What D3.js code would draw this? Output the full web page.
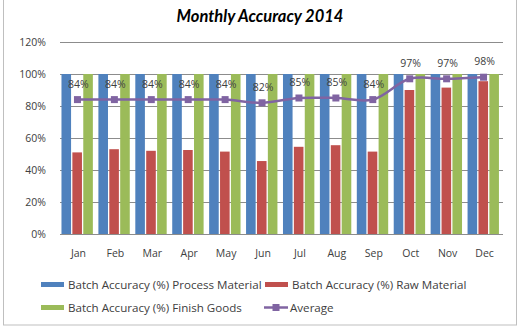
<!DOCTYPE html>
<html><head><meta charset="utf-8">
<script src="https://cdn.jsdelivr.net/npm/d3@7"></script>
<style>body{margin:0;background:#fff}svg{display:block}</style>
</head><body>
<svg id="c" width="522" height="328"></svg>
<script>
const months = ["Jan","Feb","Mar","Apr","May","Jun","Jul","Aug","Sep","Oct","Nov","Dec"];
const processMaterial = [100,100,100,100,100,100,100,100,100,100,100,100];
const rawMaterial = [51,53,52,52.5,51.5,45.6,54.5,55.5,51.5,90,91.5,95.5];
const finishGoods = [100,100,100,100,100,100,100,100,100,100,100,100];
const average = [84,84,84,84,84,82,85,85,84,97,97,98];
const avgLabels = ["84%","84%","84%","84%","84%","82%","85%","85%","84%","97%","97%","98%"];
const yTicks = [0,20,40,60,80,100,120];
const seriesNames = ["Batch Accuracy (%) Process Material","Batch Accuracy (%) Raw Material","Batch Accuracy (%) Finish Goods","Average"];
const colors = ["#4F81BD","#C0504D","#9BBB59","#8064A2"];

(function(){
const svg = d3.select("#c");
const font = "'Open Sans', Lato, sans-serif";
const fs = "10.5px";
const pl = 60, pr = 503, pt = 42, pb = 234;

svg.append("rect").attr("x",3.5).attr("y",-2).attr("width",513).attr("height",327)
  .attr("fill","none").attr("stroke","#bfbfbf").attr("stroke-width",1);

const x = d3.scaleBand().domain(months).range([pl,pr]).paddingInner(0).paddingOuter(0);
const y = d3.scaleLinear().domain([0,120]).range([pb,pt]);
const series = [processMaterial, rawMaterial, finishGoods];
const xs = d3.scaleBand().domain([0,1,2]).range([0, x.bandwidth()*0.85]).paddingInner(0.12);
const groupOffset = x.bandwidth()*0.04;

const yAxis = d3.axisLeft(y).tickValues(yTicks).tickFormat(d=>d+"%").tickSize(-(pr-pl)).tickPadding(14);
const ga = svg.append("g").attr("transform",`translate(${pl},0)`).call(yAxis);
ga.select(".domain").remove();
ga.selectAll(".tick line").attr("stroke","#8c8c8c").attr("stroke-width",1);
ga.selectAll(".tick text").attr("fill","#404040").style("font-family",font).style("font-size",fs);

series.forEach((vals,si)=>{
  svg.append("g").selectAll("rect").data(vals).join("rect")
    .attr("x",(d,i)=>x(months[i])+groupOffset+xs(si))
    .attr("width",xs.bandwidth())
    .attr("y",d=>y(d))
    .attr("height",d=>pb-y(d))
    .attr("fill",colors[si]);
});

const xAxis = d3.axisBottom(x).tickSize(0).tickPadding(16);
const gx = svg.append("g").attr("transform",`translate(0,${pb})`).call(xAxis);
gx.select(".domain").remove();
gx.selectAll(".tick text").attr("fill","#404040").style("font-family",font).style("font-size",fs);

const cx = (d,i)=>x(months[i])+x.bandwidth()/2 - 1;
const line = d3.line().x(cx).y(d=>y(d)).curve(d3.curveCatmullRom.alpha(0.5));
svg.append("path").datum(average).attr("d",line).attr("fill","none")
  .attr("stroke",colors[3]).attr("stroke-width",2.5);
svg.append("g").selectAll("rect").data(average).join("rect")
  .attr("x",(d,i)=>cx(d,i)-3.5).attr("y",d=>y(d)-3.5).attr("width",7).attr("height",7)
  .attr("fill",colors[3]);
svg.append("g").selectAll("text").data(average).join("text")
  .attr("x",(d,i)=>cx(d,i)+1).attr("y",d=>y(d)-12)
  .attr("text-anchor","middle").attr("fill","#404040")
  .style("font-family",font).style("font-size",fs)
  .text((d,i)=>avgLabels[i]);

svg.append("text").attr("x",260).attr("y",22).attr("text-anchor","middle")
  .style("font-family","Lato, sans-serif").style("font-size","16.5px").style("font-weight","bold").style("font-style","italic")
  .attr("fill","#000").text("Monthly Accuracy 2014");

const legend = [
  {i:0,x:41,y:287},{i:1,x:265,y:287},{i:2,x:41,y:310},{i:3,x:264,y:310}
];
legend.forEach(l=>{
  const g = svg.append("g");
  if (l.i<3) {
    g.append("rect").attr("x",l.x).attr("y",l.y-5).attr("width",23).attr("height",5).attr("fill",colors[l.i]);
  } else {
    g.append("line").attr("x1",l.x).attr("x2",l.x+24).attr("y1",l.y-2.5).attr("y2",l.y-2.5)
      .attr("stroke",colors[3]).attr("stroke-width",2.5);
    g.append("rect").attr("x",l.x+8.5).attr("y",l.y-6).attr("width",7).attr("height",7).attr("fill",colors[3]);
  }
  g.append("text").attr("x",l.x+(l.i<3?27:26)).attr("y",l.y+1.5)
    .attr("fill","#404040").style("font-family",font).style("font-size","11.6px")
    .text(seriesNames[l.i]);
});
})();
</script>
</body></html>
